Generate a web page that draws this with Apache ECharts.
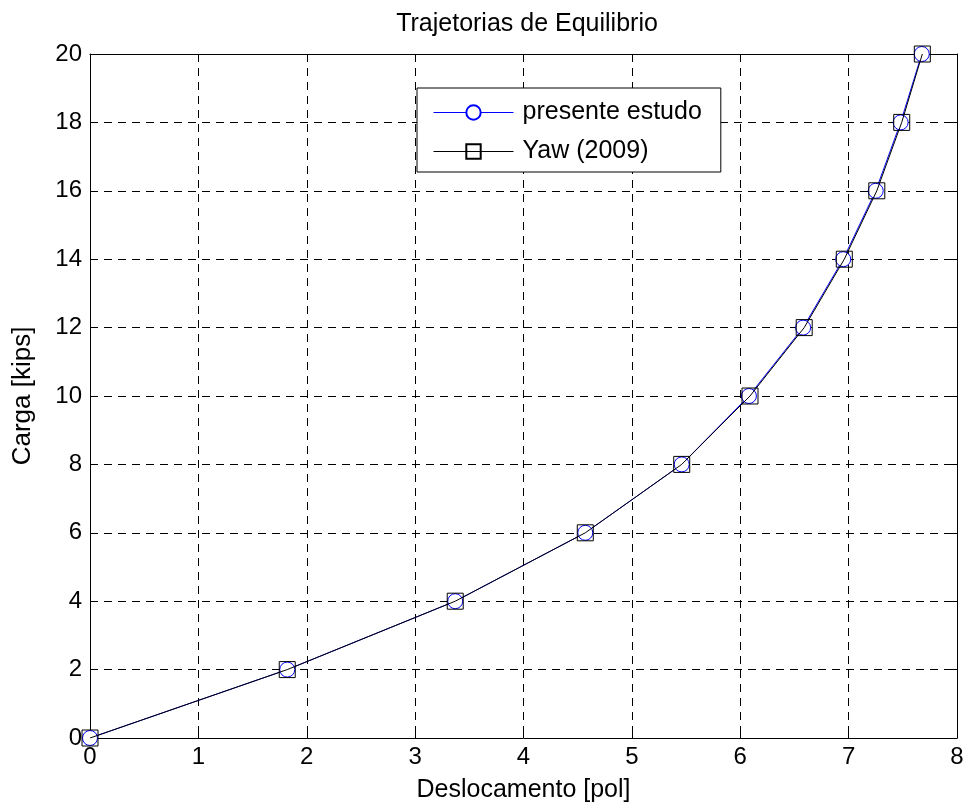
<!DOCTYPE html>
<html>
<head>
<meta charset="utf-8">
<script src="https://cdn.jsdelivr.net/npm/echarts@6/dist/echarts.min.js"></script>
<style>html,body{margin:0;padding:0;background:#fff}#c{width:969px;height:809px}</style>
</head>
<body>
<div id="c"></div>
<script>
const titleText = 'Trajetorias de Equilibrio';
const xName = 'Deslocamento [pol]';
const yName = 'Carga [kips]';
const loads = [0, 2, 4, 6, 8, 10, 12, 14, 16, 18, 20];
const dispPresente = [0, 1.82, 3.37, 4.57, 5.46, 6.08, 6.58, 6.95, 7.25, 7.48, 7.675];
const dispYaw = [0, 1.82, 3.37, 4.57, 5.46, 6.09, 6.59, 6.96, 7.26, 7.49, 7.68];
const seriesNames = ['presente estudo', 'Yaw (2009)'];

const font = 'Liberation Sans, Arial, sans-serif';
const chart = echarts.init(document.getElementById('c'));
const pair = (xs) => xs.map((x, i) => [x, loads[i]]);
const grid = {type: [8, 6], color: '#000', width: 1};

chart.setOption({
  animation: false,
  backgroundColor: '#fff',
  title: {
    text: titleText, left: 522, textAlign: 'center', top: 7,
    textStyle: {fontFamily: font, fontSize: 25, fontWeight: 'normal', color: '#000'}
  },
  grid: {left: 90, right: 12, top: 54, bottom: 71},
  legend: {
    orient: 'vertical', left: 417, top: 88,
    padding: [12, 19, 8, 16], itemGap: 14,
    itemWidth: 80, itemHeight: 18,
    backgroundColor: '#fff', borderColor: '#000', borderWidth: 1,
    lineStyle: {width: 1},
    textStyle: {fontFamily: font, fontSize: 25, color: '#000', padding: [0, 0, 0, 4]},
    data: seriesNames
  },
  xAxis: [{
    type: 'value', min: 0, max: 8, interval: 1,
    name: xName, nameLocation: 'middle', nameGap: 40,
    nameTextStyle: {fontFamily: font, fontSize: 25, color: '#000'},
    axisLine: {lineStyle: {color: '#000', width: 1}},
    axisTick: {inside: true, length: 8, lineStyle: {color: '#000'}},
    axisLabel: {fontFamily: font, fontSize: 24, color: '#000', margin: 7},
    splitLine: {show: true, lineStyle: grid}
  }, {
    type: 'value', position: 'top', min: 0, max: 8, interval: 1,
    axisLine: {show: true, onZero: false, lineStyle: {color: '#000', width: 1}},
    axisTick: {inside: true, length: 8, lineStyle: {color: '#000'}},
    axisLabel: {show: false}, splitLine: {show: false}
  }],
  yAxis: [{
    type: 'value', min: 0, max: 20, interval: 2,
    name: yName, nameLocation: 'middle', nameGap: 54,
    nameTextStyle: {fontFamily: font, fontSize: 26, color: '#000'},
    axisLine: {show: true, lineStyle: {color: '#000', width: 1}},
    axisTick: {show: true, inside: true, length: 8, lineStyle: {color: '#000'}},
    axisLabel: {fontFamily: font, fontSize: 24, color: '#000', margin: 8},
    splitLine: {show: true, lineStyle: grid}
  }, {
    type: 'value', position: 'right', min: 0, max: 20, interval: 2,
    axisLine: {show: true, onZero: false, lineStyle: {color: '#000', width: 1}},
    axisTick: {show: true, inside: true, length: 8, lineStyle: {color: '#000'}},
    axisLabel: {show: false}, splitLine: {show: false}
  }],
  series: [{
    name: seriesNames[0], type: 'line', data: pair(dispPresente),
    symbol: 'circle', symbolSize: 15, showAllSymbol: true,
    lineStyle: {color: '#0000ff', width: 1},
    itemStyle: {color: '#fff', borderColor: '#0000ff', borderWidth: 1, opacity: 1},
    emphasis: {disabled: true}, z: 2
  }, {
    name: seriesNames[1], type: 'line', data: pair(dispYaw),
    symbol: 'rect', symbolSize: 16, showAllSymbol: true,
    lineStyle: {color: '#000', width: 1},
    itemStyle: {color: 'rgba(0,0,0,0)', borderColor: '#000', borderWidth: 1},
    emphasis: {disabled: true}, z: 3
  }]
});
</script>
</body>
</html>
